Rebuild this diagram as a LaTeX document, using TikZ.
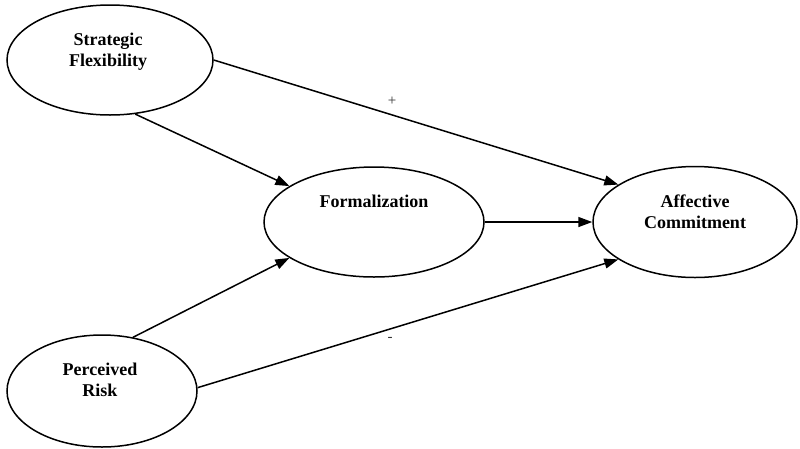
\documentclass[tikz,border=0pt]{standalone}
\usepackage{fontspec}
\setmainfont{Liberation Serif}
\usetikzlibrary{shapes.geometric,arrows.meta}
\begin{document}
\begin{tikzpicture}[x=1pt,y=-1pt,
  constr/.style={draw,ellipse,line width=1.5pt,inner sep=0pt},
  lbl/.style={font=\fontsize{18}{21}\selectfont\bfseries,align=center,inner sep=0pt},
  conn/.style={line width=1.5pt,-{Triangle[length=14pt,width=10pt]}},
  sign/.style={font=\fontsize{15}{17}\selectfont,text=black!80,inner sep=0pt}]
\useasboundingbox (0,0) rectangle (800,448);
\node[constr,minimum width=206pt,minimum height=110pt] (sf) at (110,60) {};
\node[constr,minimum width=220pt,minimum height=110pt] (fo) at (374,222) {};
\node[constr,minimum width=204pt,minimum height=111pt] (ac) at (695,222) {};
\node[constr,minimum width=190pt,minimum height=112pt] (pr) at (102,391) {};
\node[lbl] (sft) at (108,52) {Strategic\\Flexibility};
\node[lbl] (fot) at (374,201) {Formalization};
\node[lbl] (act) at (695,212) {Affective\\Commitment};
\node[lbl] (prt) at (100,380) {Perceived\\Risk};
\draw[conn] (sf.east) -- (ac.154);
\draw[conn] (sf.295) -- (fo.157);
\draw[conn] (fo.east) -- (ac.west);
\draw[conn] (pr.60) -- (fo.203);
\draw[conn] (pr.2) -- (ac.206);
\node[sign] (plus) at (392,101) {+};
\node[sign] (minus) at (390,339) {-};
\end{tikzpicture}
\end{document}
